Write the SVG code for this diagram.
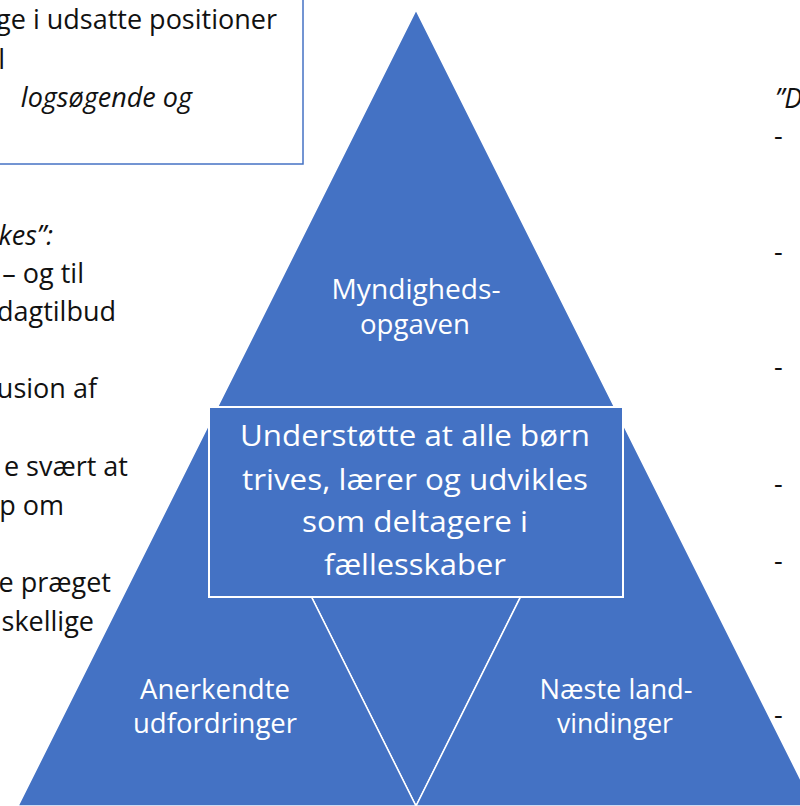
<svg xmlns="http://www.w3.org/2000/svg" width="800" height="806" viewBox="0 0 800 806">
<style>
.tri{fill:#4472C4;stroke:#FFFFFF;stroke-width:1.5;stroke-linejoin:miter}
.box{fill:#4472C4;stroke:#FFFFFF;stroke-width:2}
.wt{fill:#FFFFFF;font-family:"Open Sans","Liberation Sans",sans-serif;text-anchor:middle}
.bt{fill:#111111;font-family:"Open Sans","Liberation Sans",sans-serif;font-size:27px;text-anchor:end}
.it{font-style:italic}
.st{text-anchor:start}
.note{fill:#FFFFFF;stroke:#4472C4;stroke-width:1.5}
</style>
<rect width="800" height="806" fill="#FFFFFF"/>
<g id="left-notes">
<rect class="note" x="-10" y="-10" width="313" height="174"/>
<text class="bt" x="277" y="29">ge i udsatte positioner</text>
<text class="bt" x="5" y="69">l</text>
<text class="bt it" x="192" y="107">logsøgende og</text>
<text class="bt it" x="53" y="245">kes”:</text>
<text class="bt" x="84" y="283">– og til</text>
<text class="bt" x="116" y="321">dagtilbud</text>
<text class="bt" x="97" y="398">usion af</text>
<text class="bt" x="128" y="476">e svært at</text>
<text class="bt" x="64" y="515">p om</text>
<text class="bt" x="111" y="592">e præget</text>
<text class="bt" x="94" y="631">skellige</text>
</g>
<g id="right-notes">
<text class="bt it st" x="775" y="108" font-size="28">”D</text>
<text class="bt st" x="774" y="145">-</text>
<text class="bt st" x="774" y="261">-</text>
<text class="bt st" x="774" y="376">-</text>
<text class="bt st" x="774" y="493">-</text>
<text class="bt st" x="774" y="570">-</text>
<text class="bt st" x="774" y="724">-</text>
</g>
<g id="middle-triangle">
<polygon class="tri" points="217,408 615,408 416,806"/>
</g>
<g id="top-triangle">
<polygon class="tri" points="416,10 217,408 615,408"/>
<text class="wt" x="416" y="299" font-size="28" textLength="169" lengthAdjust="spacingAndGlyphs">Myndigheds-</text>
<text class="wt" x="415" y="334" font-size="28" textLength="110" lengthAdjust="spacingAndGlyphs">opgaven</text>
</g>
<g id="bottom-left-triangle">
<polygon class="tri" points="217,408 18,806 416,806"/>
<text class="wt" x="215" y="699" font-size="27" textLength="150" lengthAdjust="spacingAndGlyphs">Anerkendte</text>
<text class="wt" x="215" y="733" font-size="27" textLength="164" lengthAdjust="spacingAndGlyphs">udfordringer</text>
</g>
<g id="bottom-right-triangle">
<polygon class="tri" points="615,408 416,806 814,806"/>
<text class="wt" x="616" y="699" font-size="27" textLength="153" lengthAdjust="spacingAndGlyphs">Næste land-</text>
<text class="wt" x="615" y="733" font-size="27" textLength="116" lengthAdjust="spacingAndGlyphs">vindinger</text>
</g>
<g id="center-box">
<rect class="box" x="209" y="407" width="414" height="190"/>
<text class="wt" x="415" y="446" font-size="30" textLength="350" lengthAdjust="spacingAndGlyphs">Understøtte at alle børn</text>
<text class="wt" x="415" y="490" font-size="30" textLength="346" lengthAdjust="spacingAndGlyphs">trives, lærer og udvikles</text>
<text class="wt" x="415" y="532" font-size="30" textLength="226" lengthAdjust="spacingAndGlyphs">som deltagere i</text>
<text class="wt" x="415" y="575" font-size="30" textLength="182" lengthAdjust="spacingAndGlyphs">fællesskaber</text>
</g>
<g id="connectors"></g>
</svg>
